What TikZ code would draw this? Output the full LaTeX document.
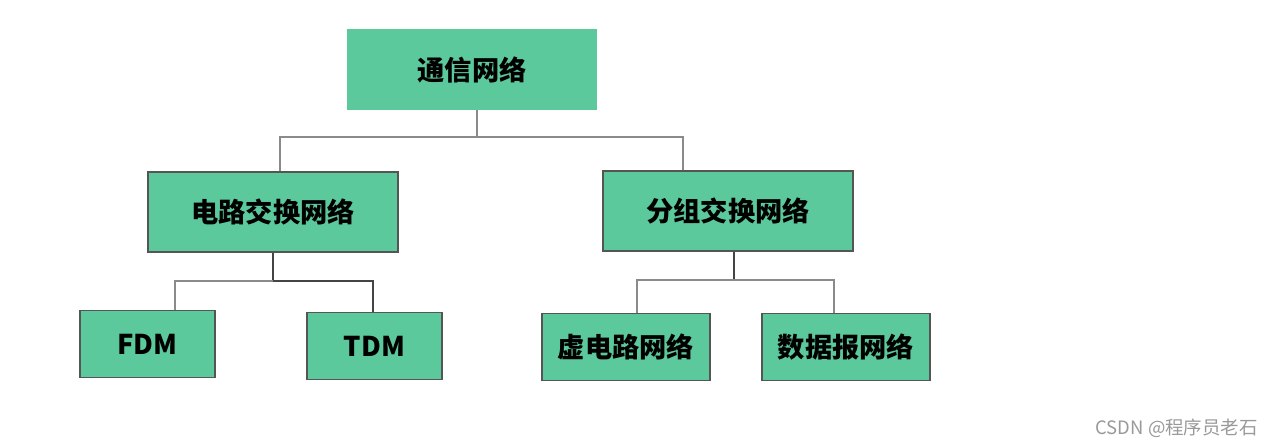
\documentclass[tikz,border=0pt]{standalone}
\usepackage{fontspec}
\newfontfamily\cjk{Noto Sans CJK SC}
\usepackage{tikz}
\usetikzlibrary{positioning}
\usepackage{xcolor}
\definecolor{NetGreen}{HTML}{5BC99B}
\definecolor{EdgeGray}{HTML}{555555}
\definecolor{LinkGray}{HTML}{8A8A8A}

\begin{document}
\begin{tikzpicture}[
				topbox/.style={fill=NetGreen, draw=none,
					minimum width=5cm, minimum height=1.62cm,
					align=center, font=\cjk\bfseries\fontsize{15.5}{18}\selectfont},
				midbox/.style={fill=NetGreen, draw=EdgeGray, line width=0.8pt,
					minimum width=5cm, minimum height=1.6cm,
					align=center, font=\cjk\bfseries\fontsize{15.5}{18}\selectfont},
				leafbox/.style={midbox, minimum width=2.7cm, minimum height=1.34cm},
				link/.style={LinkGray, line width=1pt},
				stem/.style={link, draw=EdgeGray!80!black, line width=1.3pt}
				]
				\useasboundingbox (0,0) rectangle (25.6,-8.92);
				\node[topbox] (net) at (9.44,-1.39) {通信网络};
				% second level
				\node[midbox, below=1.22cm of net, xshift=-3.98cm] (circuit) {电路交换网络};
				\node[midbox, below=1.2cm of net, xshift=5.12cm] (packet) {分组交换网络};
				% leaves
				\node[leafbox, below=1.14cm of circuit, xshift=-2.51cm] (fdm) {FDM};
				\node[leafbox, below=1.18cm of circuit, xshift=2.03cm] (tdm) {TDM};
				\node[leafbox, minimum width=3.36cm, below=1.22cm of packet, xshift=-2.04cm] (vc) {虚电路网络};
				\node[leafbox, minimum width=3.36cm, below=1.22cm of packet, xshift=2.36cm] (dg) {数据报网络};
				% connectors
				\draw[link] ([xshift=0.1cm]net.south) -- ++(0,-0.54) coordinate (j1);
				\draw[link] ([xshift=0.14cm]circuit.north) |- (j1) -| ([xshift=-0.9cm]packet.north);
				\draw[stem] (circuit.south) -- ++(0,-0.56) coordinate (j2);
				\draw[link] ([xshift=0.55cm]fdm.north) |- (j2);
				\draw[stem] (j2) -| ([xshift=-0.03cm]tdm.north);
				\draw[stem] ([xshift=0.12cm]packet.south) -- ++(0,-0.56) coordinate (j3);
				\draw[link] ([xshift=0.22cm]vc.north) |- (j3) -| ([xshift=-0.24cm]dg.north);
				% watermark
				\node[anchor=east, text=black!40, font=\cjk\fontsize{10.5}{12}\selectfont] (mark) at (25.28,-8.56) {CSDN @程序员老石};
			\end{tikzpicture}
\end{document}
